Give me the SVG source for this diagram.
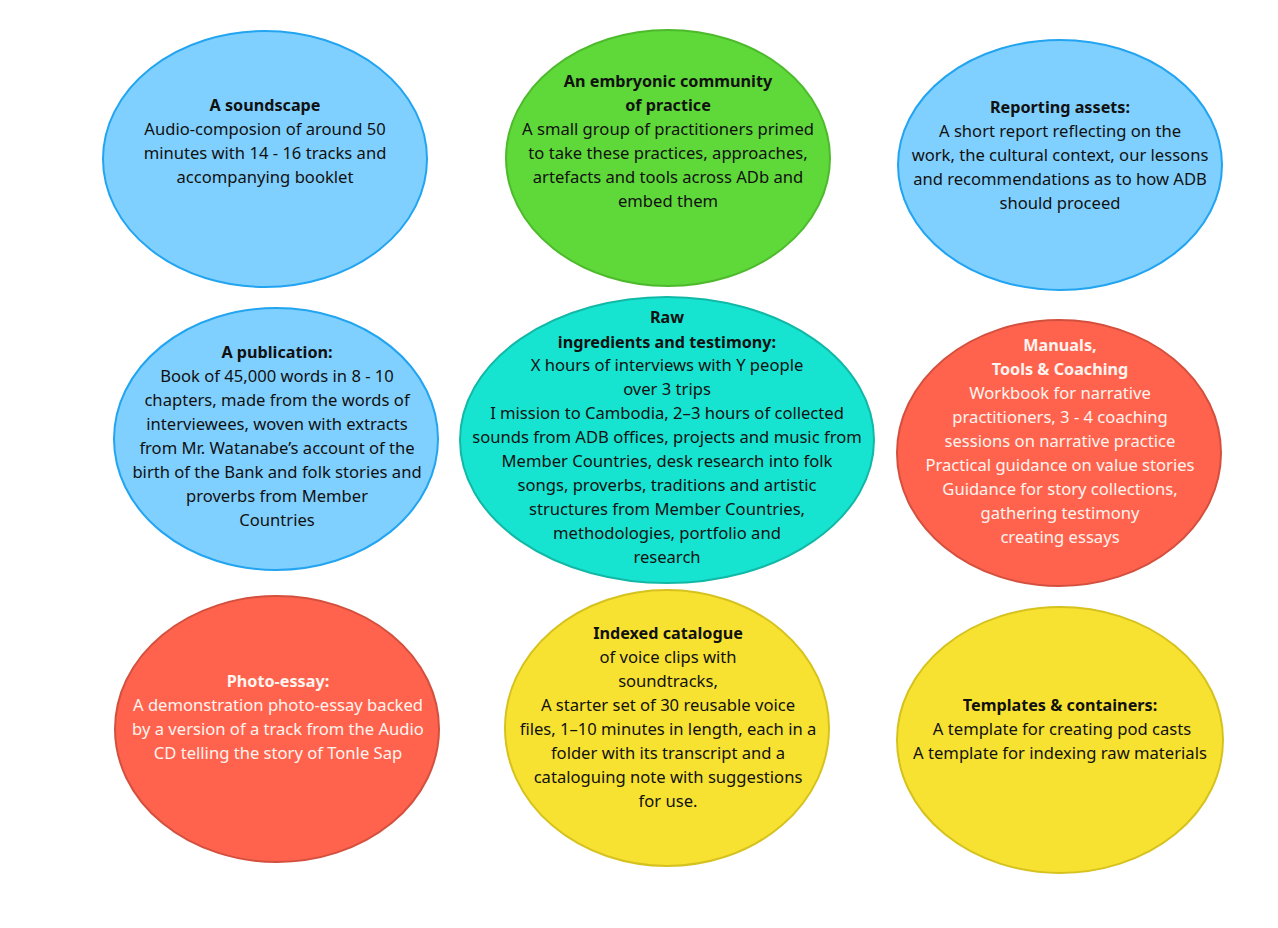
<svg xmlns="http://www.w3.org/2000/svg" width="1278" height="928" viewBox="0 0 1278 928">
<style>
.blue{fill:#80D0FF;stroke:#22A4F0;stroke-width:2}
.green{fill:#5FD83A;stroke:#4DBA2C;stroke-width:2}
.teal{fill:#17E4D0;stroke:#12B8A6;stroke-width:2}
.red{fill:#FF634D;stroke:#D4503E;stroke-width:2}
.yellow{fill:#F8E231;stroke:#D6C21E;stroke-width:2}
text{font-family:"Noto Sans","Lato",sans-serif;font-size:16.6px;text-anchor:middle;fill:#111}
.b{font-weight:bold;font-size:16.2px}
.w{fill:#FFF4F0}
</style>
<rect width="1278" height="928" fill="#fff"/>
<g id="connectors"></g>
<g id="soundscape">
<ellipse class="blue" cx="265" cy="159" rx="162" ry="128"/>
<text x="265" y="111" class="b">A soundscape</text>
<text x="265" y="135">Audio-composion of around 50</text>
<text x="265" y="159">minutes with 14 - 16 tracks and</text>
<text x="265" y="183">accompanying booklet</text>
</g>
<g id="community">
<ellipse class="green" cx="668" cy="158" rx="162" ry="128"/>
<text x="668" y="87" class="b">An embryonic community</text>
<text x="668" y="111" class="b">of practice</text>
<text x="668" y="135">A small group of practitioners primed</text>
<text x="668" y="159">to take these practices, approaches,</text>
<text x="668" y="183">artefacts and tools across ADb and</text>
<text x="668" y="207">embed them</text>
</g>
<g id="reporting">
<ellipse class="blue" cx="1060" cy="165" rx="162" ry="125"/>
<text x="1060" y="113" class="b">Reporting assets:</text>
<text x="1060" y="137">A short report reflecting on the</text>
<text x="1060" y="161">work, the cultural context, our lessons</text>
<text x="1060" y="185">and recommendations as to how ADB</text>
<text x="1060" y="209">should proceed</text>
</g>
<g id="publication">
<ellipse class="blue" cx="276" cy="439" rx="162" ry="131"/>
<text x="277" y="358" class="b">A publication:</text>
<text x="277" y="382">Book of 45,000 words in 8 - 10</text>
<text x="277" y="406">chapters, made from the words of</text>
<text x="277" y="430">interviewees, woven with extracts</text>
<text x="277" y="454">from Mr. Watanabe’s account of the</text>
<text x="277" y="478">birth of the Bank and folk stories and</text>
<text x="277" y="502">proverbs from Member</text>
<text x="277" y="526">Countries</text>
</g>
<g id="raw">
<ellipse class="teal" cx="667" cy="440" rx="207" ry="143"/>
<text x="667" y="323" class="b">Raw</text>
<text x="667" y="348" class="b">ingredients and testimony:</text>
<text x="667" y="371">X hours of interviews with Y people</text>
<text x="667" y="395">over 3 trips</text>
<text x="667" y="419">I mission to Cambodia, 2–3 hours of collected</text>
<text x="667" y="443">sounds from ADB offices, projects and music from</text>
<text x="667" y="467">Member Countries, desk research into folk</text>
<text x="667" y="491">songs, proverbs, traditions and artistic</text>
<text x="667" y="515">structures from Member Countries,</text>
<text x="667" y="539">methodologies, portfolio and</text>
<text x="667" y="563">research</text>
</g>
<g id="manuals">
<ellipse class="red" cx="1059" cy="453" rx="162" ry="133"/>
<text x="1060" y="351" class="b w">Manuals,</text>
<text x="1060" y="375" class="b w">Tools &amp; Coaching</text>
<text x="1060" y="399" class="w">Workbook for narrative</text>
<text x="1060" y="423" class="w">practitioners, 3 - 4 coaching</text>
<text x="1060" y="447" class="w">sessions on narrative practice</text>
<text x="1060" y="471" class="w">Practical guidance on value stories</text>
<text x="1060" y="495" class="w">Guidance for story collections,</text>
<text x="1060" y="519" class="w">gathering testimony</text>
<text x="1060" y="543" class="w">creating essays</text>
</g>
<g id="photo">
<ellipse class="red" cx="277" cy="729" rx="162" ry="133"/>
<text x="278" y="687" class="b w">Photo-essay:</text>
<text x="278" y="711" class="w">A demonstration photo-essay backed</text>
<text x="278" y="735" class="w">by a version of a track from the Audio</text>
<text x="278" y="759" class="w">CD telling the story of Tonle Sap</text>
</g>
<g id="indexed">
<ellipse class="yellow" cx="667" cy="728" rx="162" ry="138"/>
<text x="668" y="639" class="b">Indexed catalogue</text>
<text x="668" y="663">of voice clips with</text>
<text x="668" y="687">soundtracks,</text>
<text x="668" y="711">A starter set of 30 reusable voice</text>
<text x="668" y="735">files, 1–10 minutes in length, each in a</text>
<text x="668" y="759">folder with its transcript and a</text>
<text x="668" y="783">cataloguing note with suggestions</text>
<text x="668" y="807">for use.</text>
</g>
<g id="templates">
<ellipse class="yellow" cx="1060" cy="740" rx="163" ry="133"/>
<text x="1060" y="711" class="b">Templates &amp; containers:</text>
<text x="1062" y="735">A template for creating pod casts</text>
<text x="1060" y="759">A template for indexing raw materials</text>
</g>
</svg>
